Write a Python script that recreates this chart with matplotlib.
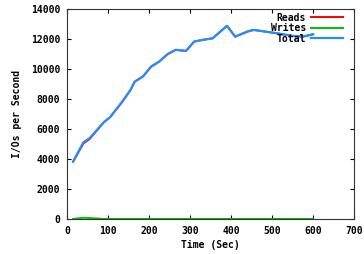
import matplotlib
matplotlib.use("Agg")
import matplotlib.pyplot as plt

# time (sec) and I/O rates
time = [15, 40, 55, 90, 105, 135, 155, 165, 185, 205, 225, 245, 265, 290,
        310, 330, 355, 390, 410, 440, 455, 510, 550, 575, 600]
total = [3820, 5110, 5380, 6450, 6780, 7820, 8600, 9150, 9490, 10150, 10490,
         10980, 11270, 11200, 11820, 11930, 12040, 12870, 12150, 12490, 12600,
         12380, 12200, 12150, 12310]
writes = [0, 80, 60, 0, 0, 0, 0, 0, 0, 0, 0, 0, 0, 0,
          0, 0, 0, 0, 0, 0, 0, 0, 0, 0, 0]
reads = [t - w for t, w in zip(total, writes)]

plt.rcParams["font.family"] = "DejaVu Sans Mono"
plt.rcParams["font.weight"] = "bold"
plt.rcParams["font.size"] = 7

fig = plt.figure(figsize=(3.64, 2.54), dpi=100)
ax = fig.add_axes([0.184, 0.138, 0.789, 0.827])

ax.plot(time, reads, color="#ff0000", lw=1.4, label="Reads")
ax.plot(time, writes, color="#00c000", lw=1.4, label="Writes")
ax.plot(time, total, color="#1e90ff", lw=1.6, label="Total")

ax.set_xlim(0, 700)
ax.set_ylim(0, 14000)
ax.set_xticks(range(0, 701, 100))
ax.set_yticks(range(0, 14001, 2000))
ax.tick_params(direction="in", top=True, right=True, length=3, width=0.8,
               labelsize=7, pad=5)
for s in ax.spines.values():
    s.set_linewidth(0.8)
    s.set_color("#333333")

ax.set_xlabel("Time (Sec)", fontsize=7, fontweight="bold", labelpad=3)
ax.set_ylabel("I/Os per Second", fontsize=7, fontweight="bold", labelpad=6)

ax.legend(loc="upper right", frameon=False, markerfirst=False, fontsize=7,
          handlelength=3.3, labelspacing=0.05, borderaxespad=0.0,
          handletextpad=0.5, bbox_to_anchor=(0.975, 1.0))

fig.savefig("out.png", dpi=100)
